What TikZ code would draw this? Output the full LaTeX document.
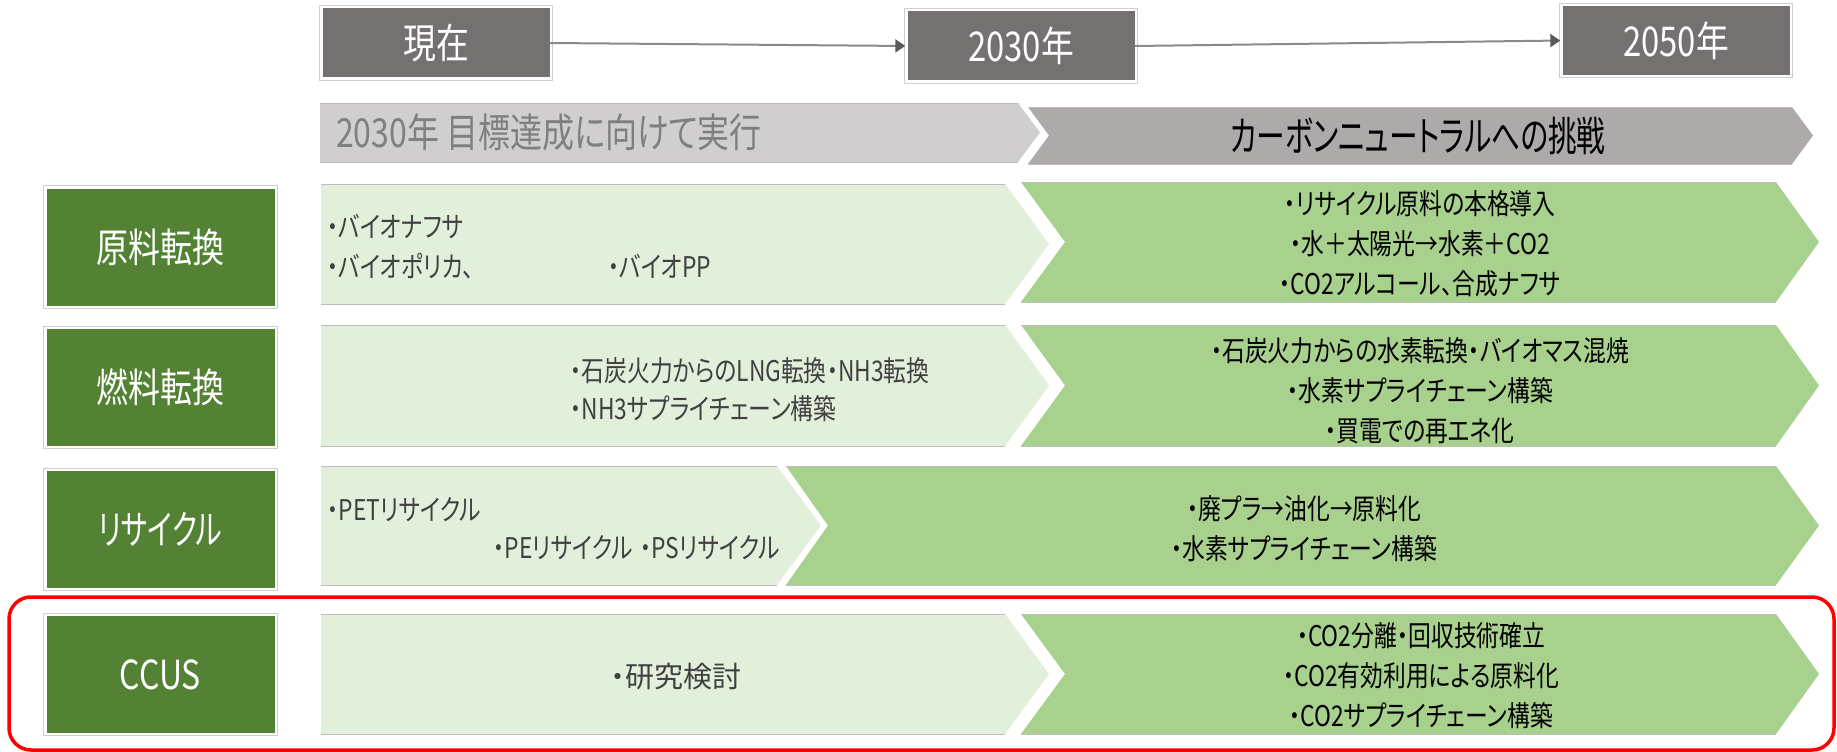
\documentclass[tikz,border=0pt]{standalone}
\usepackage{fontspec}
\setmainfont{Noto Sans CJK JP}[FakeStretch=0.8,RawFeature=+palt]
\newfontfamily\condensedjp{Noto Sans CJK JP}[FakeStretch=0.7,RawFeature=+palt]
\newfontfamily\widejp{Noto Sans CJK JP}[RawFeature=+palt]
\usetikzlibrary{arrows.meta}
\definecolor{tlgrey}{HTML}{767171}
\definecolor{frameg}{HTML}{CFCFCF}
\definecolor{banA}{HTML}{D0CECE}
\definecolor{banB}{HTML}{AEAAAA}
\definecolor{labgreen}{HTML}{548235}
\definecolor{lgreen}{HTML}{E2EFDA}
\definecolor{dgreen}{HTML}{A9D18E}
\definecolor{edgeg}{HTML}{BDBDBD}
\definecolor{banAtext}{HTML}{7F7F7F}
\definecolor{bodytext}{HTML}{404040}
\definecolor{arrowg}{HTML}{8A8A8A}
\definecolor{tipg}{HTML}{5A5A5A}
% #1 left x, #2 flat right x, #3 depth of tip, #4 top y, #5 bottom y, #6 notch depth, #7 fill
\newcommand\mychev[7]{%
  \path[fill=#7] (#1,#4) -- (#2,#4) -- ({#2+#3},{(#4+#5)/2}) -- (#2,#5) -- (#1,#5) -- ({#1+#6},{(#4+#5)/2}) -- cycle;
  \draw[edgeline] (#1,#4) -- (#2,#4) (#1,#5) -- (#2,#5);}
\newcommand\myframe[1]{\draw[boxframe] ([shift={(-2.5pt,-2.5pt)}]#1.south west) rectangle ([shift={(2.5pt,2.5pt)}]#1.north east);}
\begin{document}
\begin{tikzpicture}[x=1pt,y=-1pt,
  big/.style={font=\fontsize{41}{44}\selectfont},
  tlbox/.style={fill=tlgrey, text=white, inner sep=0pt, minimum width=227pt, minimum height=69pt, big},
  labbox/.style={fill=labgreen, text=white, inner sep=0pt, minimum width=228pt, minimum height=117pt, font=\fontsize{40}{44}\selectfont},
  boxframe/.style={draw=frameg, line width=1.2pt},
  edgeline/.style={draw=edgeg, line width=1pt},
  body/.style={font=\fontsize{28.5}{40}\selectfont, inner sep=0pt},
  lighttext/.style={body, text=bodytext, anchor=west},
  darktext/.style={body, text=black, align=center},
  tlarrow/.style={draw=arrowg, line width=2pt, -{Triangle[length=10pt,width=13pt,color=tipg]}},
]
\useasboundingbox (0,0) rectangle (1837,752);
\fill[white] (0,0) rectangle (1837,752);

% timeline
\node[tlbox] (now) at (436,43) {現在};
\node[tlbox] (y2030) at (1021,46) {2030年};
\node[tlbox] (y2050) at (1676,40.5) {2050年};
\myframe{now}\myframe{y2030}\myframe{y2050}
\draw[tlarrow, shorten >=2pt] (now.east) -- (y2030.west);
\draw[tlarrow, shorten >=2pt] (y2030.east) -- (y2050.west);

% phase banners
\mychev{320}{1018}{22}{103}{162}{0}{banA}
\mychev{1028}{1792}{21}{107}{164}{21}{banB}
\node[font=\fontsize{40}{44}\selectfont, text=banAtext, anchor=west, inner sep=0pt] (phaseA) at (336,132) {2030年 目標達成に向けて実行};
\node[font=\fontsize{41}{44}\condensedjp, text=black, inner sep=0pt] (phaseB) at (1418,136) {カーボンニュートラルへの挑戦};

% chevrons
\mychev{321}{1005}{44}{184}{304}{0}{lgreen}
\mychev{1021}{1776}{43}{182}{302}{44}{dgreen}
\mychev{321}{1005}{44}{325}{446}{0}{lgreen}
\mychev{1021}{1776}{43}{325}{446}{44}{dgreen}
\mychev{321}{777}{44}{466}{585}{0}{lgreen}
\mychev{786}{1776}{43}{466}{585}{42}{dgreen}
\mychev{321}{1005}{44}{614}{734}{0}{lgreen}
\mychev{1021}{1776}{43}{614}{734}{44}{dgreen}

% row labels
\node[labbox] (l1) at (160.5,247) {原料転換};
\node[labbox] (l2) at (160.5,387.5) {燃料転換};
\node[labbox, font=\fontsize{40}{44}\condensedjp] (l3) at (160.5,529.5) {リサイクル};
\node[labbox] (l4) at (160.5,674.5) {CCUS};
\myframe{l1}\myframe{l2}\myframe{l3}\myframe{l4}

% row 1
\node[lighttext] (r1a) at (327,226) {・バイオナフサ};
\node[lighttext] (r1b) at (327,266) {・バイオポリカ、};
\node[lighttext] (r1c) at (608,266) {・バイオPP};
\node[darktext] (r1d) at (1420,244) {・リサイクル原料の本格導入\\・水＋太陽光→水素＋CO2\\・CO2アルコール、合成ナフサ};

% row 2
\node[lighttext] (r2a) at (570,371) {・石炭火力からのLNG転換・NH3転換};
\node[lighttext] (r2b) at (570,409) {・NH3サプライチェーン構築};
\node[darktext] (r2d) at (1420,391) {・石炭火力からの水素転換・バイオマス混焼\\・水素サプライチェーン構築\\・買電での再エネ化};

% row 3
\node[lighttext] (r3a) at (327,510) {・PETリサイクル};
\node[lighttext] (r3b) at (493,548) {・PEリサイクル};
\node[lighttext] (r3c) at (640,548) {・PSリサイクル};
\node[darktext] (r3d) at (1304,529) {・廃プラ→油化→原料化\\・水素サプライチェーン構築};

% row 4
\node[font=\fontsize{29}{40}\widejp, inner sep=0pt, text=bodytext] (r4a) at (676,677) {・研究検討};
\node[darktext] (r4d) at (1421,676) {・CO2分離・回収技術確立\\・CO2有効利用による原料化\\・CO2サプライチェーン構築};

% highlight
\draw[red, line width=3.5pt, rounded corners=22pt] (9,597) rectangle (1834,750);
\end{tikzpicture}
\end{document}
